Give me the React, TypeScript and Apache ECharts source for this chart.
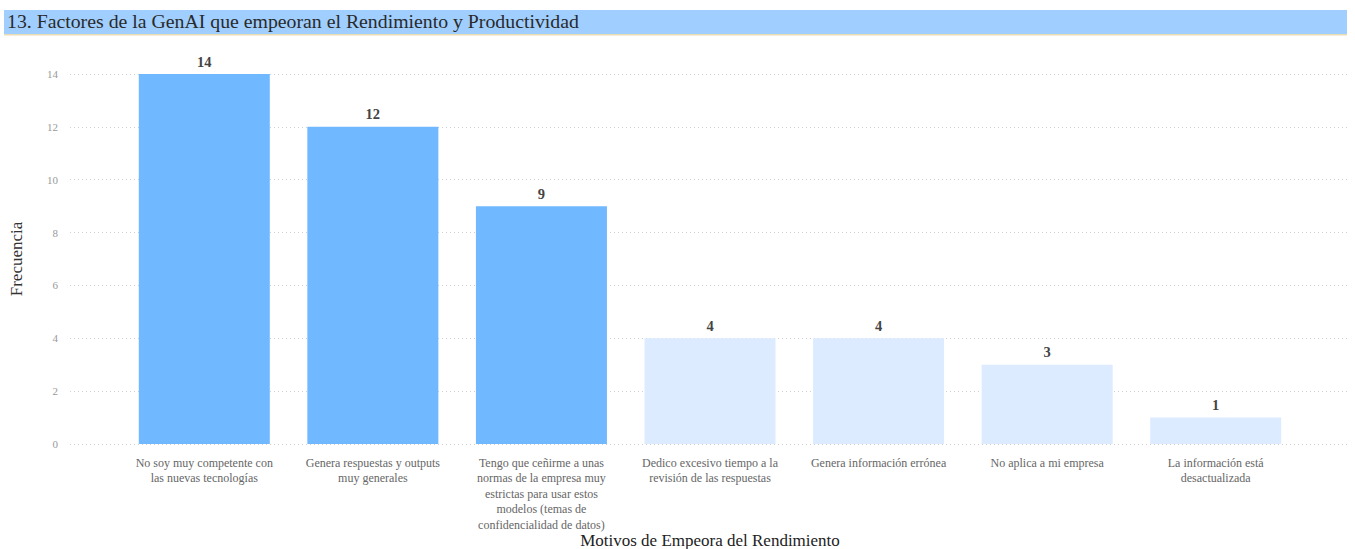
import React, { useEffect, useRef } from "react";
import * as echarts from "echarts";

const titleText = "13. Factores de la GenAI que empeoran el Rendimiento y Productividad";
const xAxisName = "Motivos de Empeora del Rendimiento";
const yAxisName = "Frecuencia";

const categories = [
  "No soy muy competente con\nlas nuevas tecnologías",
  "Genera respuestas y outputs\nmuy generales",
  "Tengo que ceñirme a unas\nnormas de la empresa muy\nestrictas para usar estos\nmodelos (temas de\nconfidencialidad de datos)",
  "Dedico excesivo tiempo a la\nrevisión de las respuestas",
  "Genera información errónea",
  "No aplica a mi empresa",
  "La información está\ndesactualizada",
];
const values = [14, 12, 9, 4, 4, 3, 1];
const highlightedCount = 3;

const yMin = 0;
const yMax = 14;
const yInterval = 2;

const SERIF = "'Liberation Serif', 'DejaVu Serif', serif";

export default function App() {
  const ref = useRef<HTMLDivElement>(null);
  useEffect(() => {
    if (!ref.current) return;
    const chart = echarts.init(ref.current, undefined, { renderer: "svg" });
    chart.setOption({
      animation: false,
      backgroundColor: "#ffffff",
      graphic: [
        { type: "rect", shape: { x: 4, y: 10, width: 1343, height: 24 }, style: { fill: "#a0cfff" }, silent: true },
        { type: "rect", shape: { x: 4, y: 34, width: 1343, height: 1.5 }, style: { fill: "#eadcb5" }, silent: true },
        {
          type: "text",
          left: 7,
          top: 11,
          style: { text: titleText, font: `19.8px ${SERIF}`, fill: "#2a2a2a" },
        },
      ],
      grid: [
        { left: 70, right: 8, top: 74, bottom: 105, containLabel: false, outerBoundsMode: "none" },
        { left: 120, right: 55, top: 74, bottom: 105, containLabel: false, outerBoundsMode: "none" },
      ],
      xAxis: [
        { type: "value", gridIndex: 0, show: false, min: 0, max: 1 },
        {
          type: "category",
          gridIndex: 1,
          data: categories,
          axisLine: { show: false },
          axisTick: { show: false },
          axisLabel: {
            interval: 0,
            color: "#666",
            fontFamily: SERIF,
            fontSize: 12,
            lineHeight: 15.5,
            margin: 11,
          },
          name: xAxisName,
          nameLocation: "middle",
          nameGap: 88,
          nameMoveOverlap: false,
          nameTextStyle: { fontFamily: SERIF, fontSize: 17, color: "#222" },
        },
      ],
      yAxis: [
        {
          type: "value",
          gridIndex: 0,
          min: yMin,
          max: yMax,
          interval: yInterval,
          axisLine: { show: false },
          axisTick: { show: false },
          axisLabel: { color: "#999", fontFamily: SERIF, fontSize: 11, margin: 12 },
          splitLine: { show: true, lineStyle: { color: "#d0d0d0", type: [1, 3], width: 1 } },
          name: yAxisName,
          nameLocation: "middle",
          nameRotate: 90,
          nameGap: 45,
          nameMoveOverlap: false,
          nameTextStyle: { fontFamily: SERIF, fontSize: 17, color: "#333" },
        },
        {
          type: "value",
          gridIndex: 1,
          min: yMin,
          max: yMax,
          interval: yInterval,
          show: false,
          splitLine: { show: false },
        },
      ],
      series: [
        {
          type: "bar",
          xAxisIndex: 1,
          yAxisIndex: 1,
          barWidth: 131,
          data: values.map((v, i) => ({
            value: v,
            itemStyle: { color: i < highlightedCount ? "#70b8ff" : "#dcebff" },
          })),
          label: {
            show: true,
            position: "top",
            distance: 5,
            fontFamily: SERIF,
            fontWeight: "bold",
            fontSize: 14.5,
            color: "#444",
          },
        },
      ],
    });
    return () => chart.dispose();
  }, []);
  return (
    <div
      ref={ref}
      style={{ position: "fixed", left: 0, top: 0, width: 1355, height: 549 }}
    />
  );
}
